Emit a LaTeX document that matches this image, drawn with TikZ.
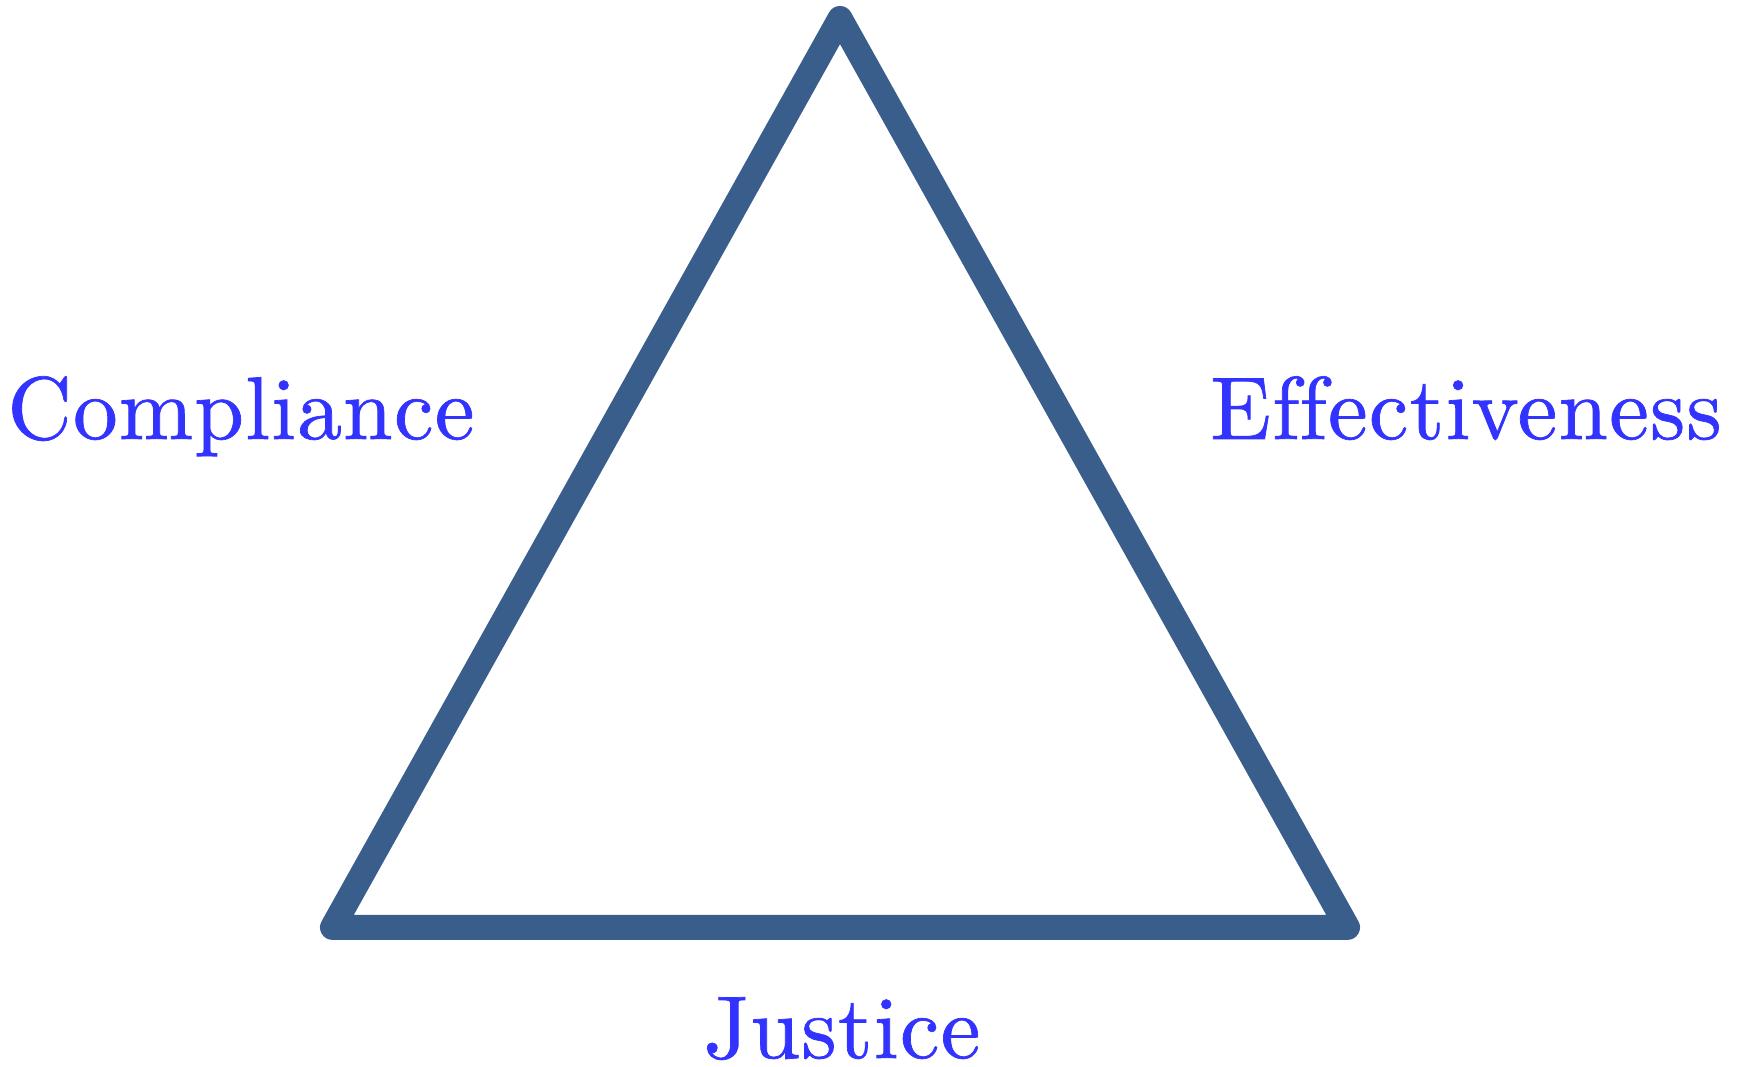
\documentclass[tikz,border=0pt]{standalone}
\usepackage{fontspec}
% 10pt design of Latin Modern, slightly heavier and a little more open
\newfontfamily\lblfont{lmroman10-regular.otf}[FakeBold=0.8, LetterSpace=1.5]
\begin{document}
\begin{tikzpicture}[x=1pt,y=1pt,
  edgecol/.style={draw={rgb,255:red,58;green,94;blue,140}, line width=25pt, line join=round, line cap=round},
  label/.style={inner sep=0pt, anchor=base, text={rgb,255:red,51;green,51;blue,255}, font=\lblfont\fontsize{89}{100}\selectfont}]
  \useasboundingbox (0,0) rectangle (1746,1066);
  % triangle corners
  \coordinate (top) at (840,1047.5);
  \coordinate (left) at (332.5,138.6);
  \coordinate (right) at (1347.5,138.6);
  \draw[edgecol] (top) -- (left) -- (right) -- cycle;
  % corner labels
  \node[label] (comp) at (241,627) {Compliance};
  \node[label] (eff) at (1466,627) {Ef\kern0pt fectiveness};
  \node[label] (just) at (842,8) {Justice};
\end{tikzpicture}
\end{document}
